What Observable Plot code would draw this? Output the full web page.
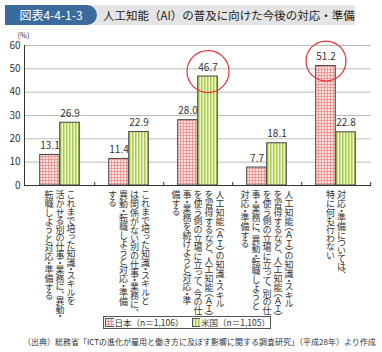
<!DOCTYPE html>
<html><head><meta charset="utf-8">
<script src="https://cdn.jsdelivr.net/npm/d3@7"></script>
<script src="https://cdn.jsdelivr.net/npm/@observablehq/plot@0.6"></script>
<style>
body{margin:0;background:#fff;font-family:"Noto Sans CJK JP","Noto Sans",sans-serif;color:#333;width:382px;height:352px;overflow:hidden;position:relative}
#title{position:absolute;left:0;top:0;width:382px;height:30px}
#title .bar{position:absolute;left:5px;top:5px;width:350px;height:20px;background:#e4e4e4}
#title .tag{position:absolute;left:5px;top:5px;width:92px;height:20px;background:#3a6b9c;color:#fff;border-radius:0 10px 10px 0;font-size:12px;line-height:20px;text-align:center}
#title .text{position:absolute;left:103px;top:5px;line-height:20px;font-size:11.5px;color:#222}
#chart{position:absolute;left:0;top:30px}
#legend{position:absolute;left:103px;top:316px;width:168px;height:13px;border:1px solid #555;display:flex;align-items:center;font-size:8.5px;line-height:13px;box-sizing:border-box;padding-left:1px;white-space:nowrap}
#legend svg{margin-right:1px}
#caption{position:absolute;left:23px;top:336px;font-size:8px;line-height:12px;white-space:nowrap;color:#333}
#defs{position:absolute;width:0;height:0}
</style></head>
<body>
<svg id="defs" width="0" height="0">
  <defs>
    <pattern id="patJ" patternUnits="userSpaceOnUse" width="3" height="3">
      <rect width="3" height="3" fill="#fce6e4"/>
      <rect width="3" height="1" fill="#ef9a98"/>
      <rect width="1" height="3" fill="#ef9a98"/>
    </pattern>
    <pattern id="patU" patternUnits="userSpaceOnUse" width="3" height="3">
      <rect width="3" height="3" fill="#f0f6d2"/>
      <rect width="1.5" height="3" fill="#a9cd48"/>
    </pattern>
  </defs>
</svg>
<div id="title"><div class="bar"></div><div class="tag">図表4-4-1-3</div><div class="text">人工知能（AI）の普及に向けた今後の対応・準備</div></div>
<div id="chart"></div>
<div id="legend"></div>
<div id="caption"></div>
<script>
const FONT = '"Noto Sans CJK JP","Noto Sans",sans-serif';

// ---- data ----
const categories = [
  "これまで培った知識・スキルを活かせる別の仕事・業務に、異動・転職しようと対応・準備する",
  "これまで培った知識・スキルとは関係がない別の仕事・業務に、異動・転職しようと対応・準備する",
  "人工知能（AI）の知識・スキルを習得するなど、人工知能（AI）を使う側の立場に立って、今の仕事・業務を続けようと対応・準備する",
  "人工知能（AI）の知識・スキルを習得するなど、人工知能（AI）を使う側の立場に立って、別の仕事・業務に、異動・転職しようと対応・準備する",
  "対応・準備については、特に何も行わない"
];
const labelColumns = [
  ["これまで培った知識・スキルを", "活かせる別の仕事・業務に、異動・", "転職しようと対応・準備する"],
  ["これまで培った知識・スキルと", "は関係がない別の仕事・業務に、", "異動・転職しようと対応・準備", "する"],
  ["人工知能（ＡＩ）の知識・スキル", "を習得するなど、人工知能（ＡＩ）", "を使う側の立場に立って、今の仕", "事・業務を続けようと対応・準", "備する"],
  ["人工知能（ＡＩ）の知識・スキル", "を習得するなど、人工知能（ＡＩ）", "を使う側の立場に立って、別の仕", "事・業務に、異動・転職しようと", "対応・準備する"],
  ["対応・準備については、", "特に何も行わない"]
];
const seriesNames = ["日本（n＝1,106）", "米国（n＝1,105）"];
const japan = [13.1, 11.4, 28.0, 7.7, 51.2];
const usa = [26.9, 22.9, 46.7, 18.1, 22.8];
const highlightJapan = [false, false, false, false, true];
const highlightUsa = [false, false, true, false, false];
const yTicks = [0, 10, 20, 30, 40, 50, 60];
const yUnit = "(%)";
const sourceNote = "（出典）総務省「ICTの進化が雇用と働き方に及ぼす影響に関する調査研究」（平成28年）より作成";

// ---- derived tables ----
const jpRows = categories.map((c, i) => ({category: c, value: japan[i], hi: highlightJapan[i]}));
const usRows = categories.map((c, i) => ({category: c, value: usa[i], hi: highlightUsa[i]}));

const W = 382, H = 286, ML = 24, MR = 11, MT = 15, MB = 131;
const bw = (W - ML - MR) / categories.length;
const barW = 20;
const colSp = 11;

const labelRows = [];
labelColumns.forEach((cols, ci) => {
  cols.forEach((t, k) => {
    labelRows.push({category: categories[ci], text: t, off: ((cols.length - 1) / 2 - k) * colSp});
  });
});
const offsets = Array.from(new Set(labelRows.map(d => d.off)));
const labelMarks = offsets.map(o => Plot.text(labelRows.filter(d => d.off === o), {
  x: "category", y: () => 0, text: "text", dx: o, dy: 5,
  textAnchor: "start", lineAnchor: "bottom", fontSize: 9, fill: "#333",
  ariaLabel: "category label"
}));

const plot = Plot.plot({
  width: W, height: H,
  marginLeft: ML, marginRight: MR, marginTop: MT, marginBottom: MB,
  style: {fontFamily: FONT, fontSize: "10px", color: "#333", background: "transparent", overflow: "visible"},
  x: {domain: categories, padding: 0, axis: null},
  y: {domain: [0, 60], axis: null},
  marks: [
    Plot.ruleY(yTicks.slice(1), {stroke: "#b9bdb4", strokeWidth: 1}),
    Plot.axisY(yTicks, {tickSize: 0, tickPadding: 4, label: null, fontSize: 10, fill: "#333"}),
    Plot.barY(jpRows, {x: "category", y: "value", fill: "url(#patJ)", stroke: "#444", strokeWidth: 1,
      insetLeft: bw / 2 - barW, insetRight: bw / 2}),
    Plot.barY(usRows, {x: "category", y: "value", fill: "url(#patU)", stroke: "#444", strokeWidth: 1,
      insetLeft: bw / 2, insetRight: bw / 2 - barW}),
    Plot.ruleY([0], {stroke: "#333", strokeWidth: 1}),
    Plot.frame({anchor: "left", stroke: "#333"}),
    Plot.ruleX(categories, {x: d => d, dx: bw / 2, y1: 0, y2: 1.3, stroke: "#333"}),
    Plot.text(jpRows, {x: "category", y: "value", text: d => d.value.toFixed(1), dx: -barW / 2, dy: -6,
      lineAnchor: "bottom", fontSize: 10, fill: "#333"}),
    Plot.text(usRows, {x: "category", y: "value", text: d => d.value.toFixed(1), dx: barW / 2, dy: -6,
      lineAnchor: "bottom", fontSize: 10, fill: "#333"}),
    Plot.dot(jpRows.filter(d => d.hi), {x: "category", y: "value", dx: -barW / 2, dy: -5, r: 20,
      stroke: "#e8303a", strokeWidth: 1.2, fill: "none"}),
    Plot.dot(usRows.filter(d => d.hi), {x: "category", y: "value", dx: barW / 2, dy: -5, r: 21,
      stroke: "#e8303a", strokeWidth: 1.2, fill: "none"}),
    Plot.text([yUnit], {frameAnchor: "top-left", dx: -7, dy: -13, fontSize: 7.5, fill: "#333"}),
    ...labelMarks
  ]
});
const labelSet = new Set(labelRows.map(d => d.text));
d3.select(plot).selectAll("text")
  .filter(function() { return labelSet.has(this.textContent); })
  .attr("writing-mode", "tb")
  .style("writing-mode", "vertical-rl")
  .style("font-feature-settings", '"vpal"');
document.getElementById("chart").appendChild(plot);

// legend
const legend = d3.select("#legend");
seriesNames.forEach((name, i) => {
  const sw = legend.append("svg").attr("width", 14).attr("height", 9)
    .style("margin-left", i ? "8px" : "0px");
  sw.append("rect").attr("x", 0.5).attr("y", 0.5).attr("width", 13).attr("height", 8)
    .attr("fill", i ? "url(#patU)" : "url(#patJ)").attr("stroke", "#555");
  legend.append("span").text(name);
});
d3.select("#caption").text(sourceNote);
</script>
</body></html>
